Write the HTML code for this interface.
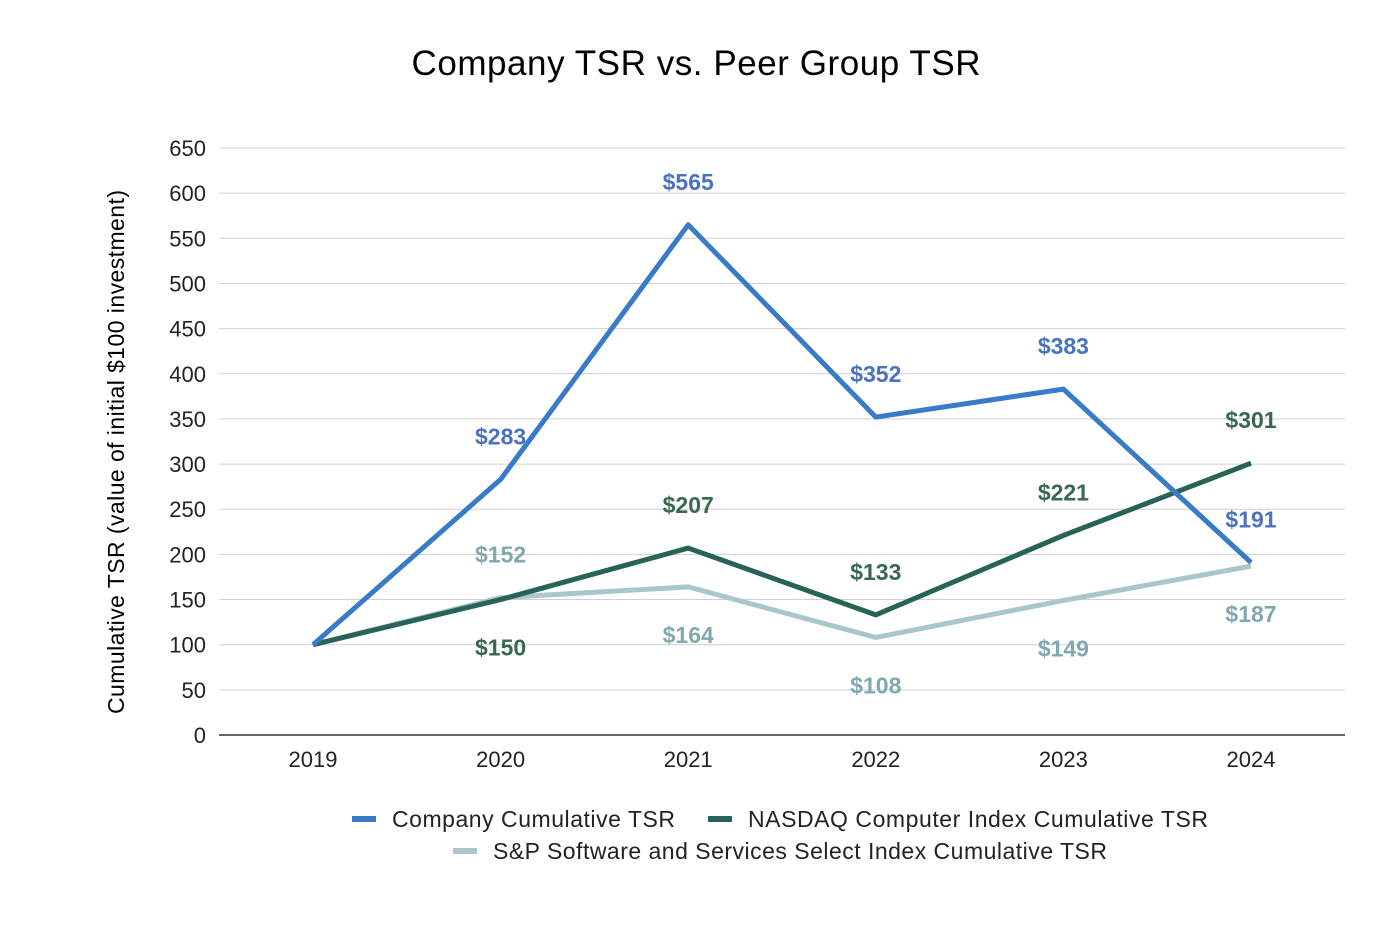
<!DOCTYPE html>
<html><head><meta charset="utf-8"><style>
body{margin:0;background:#fff;font-family:"Liberation Sans",Arial,sans-serif;}
svg text{font-family:"Liberation Sans",Arial,sans-serif;}
</style></head><body>
<svg id="chart" width="1382" height="922" viewBox="0 0 1382 922">
<rect width="1382" height="922" fill="#fff"/>
<text x="696" y="75" text-anchor="middle" font-size="35" textLength="569" fill="#000">Company TSR vs. Peer Group TSR</text>
<text transform="translate(124,452) rotate(-90)" text-anchor="middle" font-size="23" textLength="524" fill="#000">Cumulative TSR (value of initial $100 investment)</text>
<g id="grid"></g><g id="series"></g><g id="labels"></g>
<g font-size="23" fill="#222">
<g><rect x="352" y="816" width="24" height="6" fill="#3a7bc8"/><text x="392" y="827" textLength="283">Company Cumulative TSR</text></g>
<g><rect x="708" y="816" width="24" height="6" fill="#276356"/><text x="748" y="827" textLength="460">NASDAQ Computer Index Cumulative TSR</text></g>
<g><rect x="453" y="848" width="24" height="6" fill="#a9c6cb"/><text x="493" y="859" textLength="614">S&amp;P Software and Services Select Index Cumulative TSR</text></g>
</g>
</svg>
<script>
const years=["2019","2020","2021","2022","2023","2024"];
const company=[100,283,565,352,383,191];
const nasdaq=[100,150,207,133,221,301];
const sp=[100,152,164,108,149,187];
const yTicks=[0,50,100,150,200,250,300,350,400,450,500,550,600,650];
const companyPos=[0,-1,-1,-1,-1,-1];
const nasdaqPos=[0,1,-1,-1,-1,-1];
const spPos=[0,-1,1,1,1,1];
const NS="http://www.w3.org/2000/svg";
const x=i=>313+i*187.6;
const y=v=>735-v*(587/650);
function mk(tag,attrs,parent,txt){const e=document.createElementNS(NS,tag);for(const k in attrs)e.setAttribute(k,attrs[k]);if(txt!==undefined)e.textContent=txt;parent.appendChild(e);return e;}
const grid=document.getElementById('grid');
yTicks.forEach(t=>{
 const l=mk('line',{x1:219,x2:1345,y1:y(t),y2:y(t),stroke:t===0?'#333':'#cfcfcf','stroke-width':t===0?1.5:1},grid);
 
 
 const tx=mk('text',{x:206,y:y(t)+8,'text-anchor':'end','font-size':22,fill:'#222'},grid,String(t));
 
 
});
years.forEach((yr,i)=>{
 const tx=mk('text',{x:x(i),y:767,'text-anchor':'middle','font-size':22,fill:'#222'},grid,yr);
 
 
});
const ser=document.getElementById('series'),lab=document.getElementById('labels');
function draw(vals,color,lc,pos,name){
 const p=mk('polyline',{points:vals.map((v,i)=>x(i)+','+y(v)).join(' '),fill:'none',stroke:color,'stroke-width':5,'stroke-linejoin':'round'},ser);
 
 
 vals.forEach((v,i)=>{
  if(!pos[i])return;
  const ly=pos[i]<0?y(v)-35:y(v)+56;
  const t=mk('text',{x:x(i),y:ly,'text-anchor':'middle','font-size':23,'font-weight':'bold',fill:lc},lab,'$'+v);
  
  
 });
}
draw(sp,'#a9c6cb','#7fa9ae',spPos,'sp-software');
draw(nasdaq,'#276356','#38694f',nasdaqPos,'nasdaq');
draw(company,'#3a7bc8','#4a72c0',companyPos,'company');
</script>
</body></html>
